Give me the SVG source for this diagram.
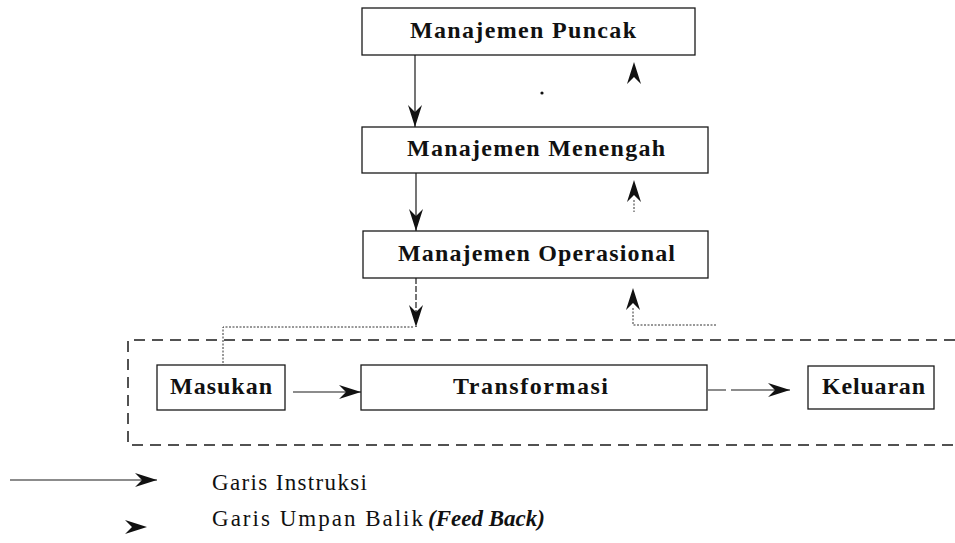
<svg xmlns="http://www.w3.org/2000/svg" xmlns:xlink="http://www.w3.org/1999/xlink" width="955" height="543" viewBox="0 0 955 543">
  <style>
    .box { fill: #ffffff; stroke: #1a1a1a; stroke-width: 1.3; }
    .lbl { font-family: "Liberation Serif", "Times New Roman", serif; font-weight: bold; font-size: 24px; fill: #111111; }
    .leg { font-family: "Liberation Serif", "Times New Roman", serif; font-size: 23px; fill: #111111; }
    .legit { font-family: "Liberation Serif", "Times New Roman", serif; font-size: 23px; font-weight: bold; font-style: italic; fill: #111111; }
    .line { fill: none; stroke: #1a1a1a; stroke-width: 1.2; }
    .dot { fill: none; stroke: #333333; stroke-width: 1; stroke-dasharray: 2 1.5; }
    .frame { fill: none; stroke: #1a1a1a; stroke-width: 1.5; stroke-dasharray: 11 7; }
    .head { fill: #111111; }
  </style>
  <defs>
    <!-- notched arrowhead, tip at the origin, pointing along +x -->
    <path id="head" class="head" d="M0,0 L-22,-7 L-15,0 L-22,7 Z"/>
    <marker id="arr" viewBox="-24 -8 26 16" refX="0" refY="0" markerWidth="26" markerHeight="16" markerUnits="userSpaceOnUse" orient="auto">
      <path class="head" d="M0,0 L-22,-7 L-15,0 L-22,7 Z"/>
    </marker>
  </defs>

  <!-- boundary of the operational process -->
  <path class="frame" d="M955,340 L128,340 L128,445 L955,445"/>

  <g id="puncak">
    <rect class="box" x="362" y="8" width="333" height="47"/>
    <text class="lbl" x="410" y="38" textLength="226" lengthAdjust="spacing">Manajemen Puncak</text>
  </g>
  <g id="menengah">
    <rect class="box" x="362" y="127" width="346" height="46"/>
    <text class="lbl" x="407" y="156" textLength="258" lengthAdjust="spacing">Manajemen Menengah</text>
  </g>
  <g id="operasional">
    <rect class="box" x="363" y="231" width="345" height="47"/>
    <text class="lbl" x="398" y="261" textLength="277" lengthAdjust="spacing">Manajemen Operasional</text>
  </g>
  <g id="masukan">
    <rect class="box" x="157" y="365" width="128" height="45"/>
    <text class="lbl" x="170" y="394" textLength="102" lengthAdjust="spacing">Masukan</text>
  </g>
  <g id="transformasi">
    <rect class="box" x="361" y="365" width="346" height="45"/>
    <text class="lbl" x="453" y="394" textLength="155" lengthAdjust="spacing">Transformasi</text>
  </g>
  <g id="keluaran">
    <rect class="box" x="808" y="366" width="126" height="43"/>
    <text class="lbl" x="822" y="394" textLength="103" lengthAdjust="spacing">Keluaran</text>
  </g>

  <g id="connectors">
    <!-- instruction lines (downward) -->
    <line class="line" x1="415" y1="55" x2="415" y2="127" marker-end="url(#arr)"/>
    <line class="line" x1="416" y1="173" x2="416" y2="231" marker-end="url(#arr)"/>
    <line class="line" x1="416" y1="278" x2="416" y2="327" marker-end="url(#arr)" stroke-dasharray="6 2"/>
    <path class="dot" d="M413,327 L223,327 L223,365"/>
    <!-- process flow -->
    <line class="line" x1="293" y1="392" x2="361" y2="392" marker-end="url(#arr)"/>
    <line class="line" x1="708" y1="390" x2="790" y2="390" marker-end="url(#arr)" stroke-dasharray="18 5 60 0"/>
    <!-- feedback lines (upward) -->
    <use xlink:href="#head" transform="translate(634,62) rotate(-90)"/>
    <use xlink:href="#head" transform="translate(634,180) rotate(-90)"/>
    <line class="dot" x1="634" y1="200" x2="634" y2="212"/>
    <use xlink:href="#head" transform="translate(633,288) rotate(-90)"/>
    <path class="dot" d="M633,308 L633,325 L716,325"/>
  </g>

  <!-- stray mark -->
  <circle cx="542" cy="93" r="1.6" fill="#111111"/>

  <g id="legend">
    <line class="line" x1="10" y1="480" x2="157" y2="480" marker-end="url(#arr)"/>
    <text class="leg" x="212" y="490" textLength="155" lengthAdjust="spacing">Garis Instruksi</text>
    <use xlink:href="#head" transform="translate(147,527)"/>
    <text class="leg" x="212" y="526" textLength="211" lengthAdjust="spacing">Garis Umpan Balik</text>
    <text class="legit" x="428" y="526">(Feed Back)</text>
  </g>
</svg>
